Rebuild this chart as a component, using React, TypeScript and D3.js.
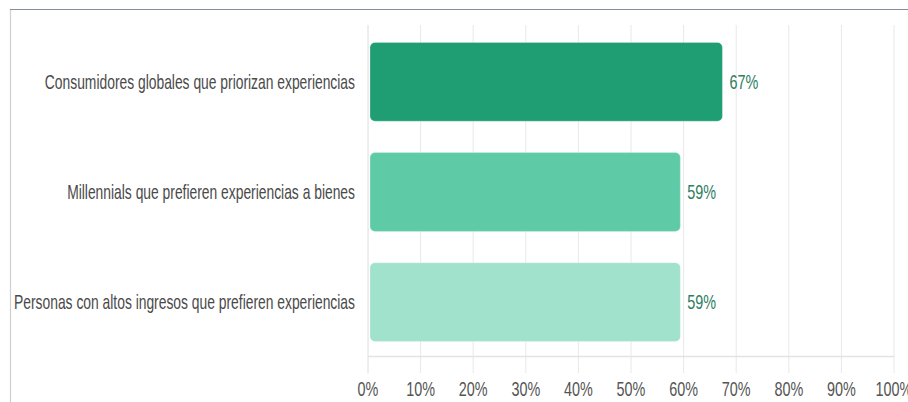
import React from "react";
import * as d3 from "d3";

const categories = [
  "Consumidores globales que priorizan experiencias",
  "Millennials que prefieren experiencias a bienes",
  "Personas con altos ingresos que prefieren experiencias",
];
const values = [67, 59, 59];
const barColors = ["#1f9e74", "#5ecba6", "#a1e2cc"];
const tickValues = [0, 10, 20, 30, 40, 50, 60, 70, 80, 90, 100];

const W = 908;
const H = 402;
const SX = 0.72;
const SX_LABEL = 0.693;

export default function App() {
  const x = d3.scaleLinear().domain([0, 100]).range([368, 894]);
  const y = d3
    .scaleBand<string>()
    .domain(categories)
    .range([27, 357])
    .paddingInner(0.285)
    .paddingOuter(0.14);
  const fmt = (v: number) => `${v}%`;

  return (
    <div style={{ position: "absolute", left: 0, top: 0, width: W, height: H, background: "#fff" }}>
      <svg width={W} height={H} style={{ display: "block" }} fontFamily="'Liberation Sans', Arial, sans-serif">
        <rect x={0} y={0} width={W} height={H} fill="#fff" />
        {/* frame */}
        <line x1={10} x2={W} y1={9.5} y2={9.5} stroke="#858c9c" strokeWidth={1.2} />
        <line x1={10.5} x2={10.5} y1={10} y2={H} stroke="#cfcfcf" strokeWidth={1.2} />
        {/* gridlines */}
        {tickValues.map((t) => (
          <line
            key={"g" + t}
            x1={x(t)}
            x2={x(t)}
            y1={25}
            y2={373}
            stroke={t === 0 ? "#dcdcdc" : "#e8e8e8"}
            strokeWidth={1}
          />
        ))}
        <line x1={x(0)} x2={x(100)} y1={356.5} y2={356.5} stroke="#e3e3e3" strokeWidth={1.5} />
        {/* bars */}
        {categories.map((c, i) => (
          <rect
            key={c}
            x={x(0) + 2}
            y={y(c)!}
            width={x(values[i]) - x(0)}
            height={y.bandwidth()}
            rx={5}
            ry={5}
            fill={barColors[i]}
            stroke="#ffffff"
            strokeOpacity={0.25}
          />
        ))}
        {/* value labels */}
        {categories.map((c, i) => (
          <text
            key={"v" + c}
            transform={`translate(${x(values[i]) + 9},${y(c)! + y.bandwidth() / 2}) scale(${SX},1)`}
            dominantBaseline="central"
            fontSize={20}
            fill="#2f7d62"
          >
            {fmt(values[i])}
          </text>
        ))}
        {/* category labels */}
        {categories.map((c) => (
          <text
            key={"c" + c}
            transform={`translate(355,${y(c)! + y.bandwidth() / 2}) scale(${SX_LABEL},1)`}
            textAnchor="end"
            dominantBaseline="central"
            fontSize={20}
            fill="#4a4a4a"
          >
            {c}
          </text>
        ))}
        {/* x tick labels */}
        {tickValues.map((t) => (
          <text
            key={"t" + t}
            transform={`translate(${x(t)},389) scale(${SX},1)`}
            textAnchor="middle"
            dominantBaseline="central"
            fontSize={20}
            fill="#555"
          >
            {fmt(t)}
          </text>
        ))}
      </svg>
    </div>
  );
}
